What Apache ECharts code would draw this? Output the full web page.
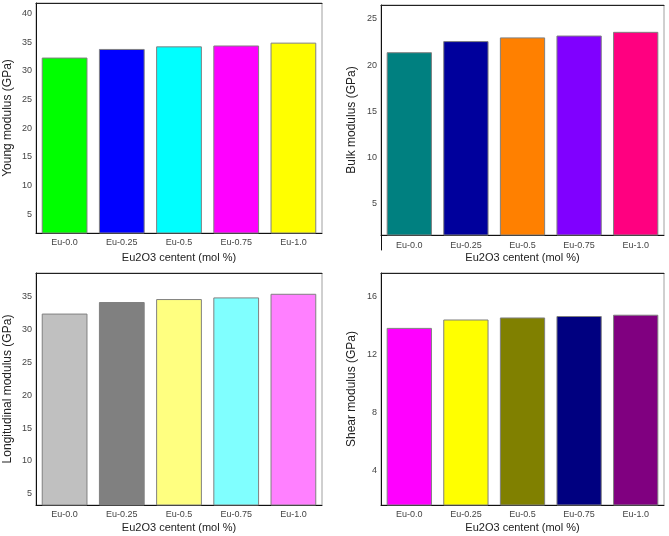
<!DOCTYPE html>
<html>
<head>
<meta charset="utf-8">
<script src="https://cdn.jsdelivr.net/npm/echarts@6/dist/echarts.min.js"></script>
<style>
html,body{margin:0;padding:0;background:#fff;}
#chart{width:669px;height:536px;}
</style>
</head>
<body>
<div id="chart"></div>
<script>
const categories = ['Eu-0.0', 'Eu-0.25', 'Eu-0.5', 'Eu-0.75', 'Eu-1.0'];

const youngValues = [32.3, 33.8, 34.25, 34.4, 34.9];
const bulkValues = [21.4, 22.6, 23.0, 23.2, 23.6];
const longitudinalValues = [32.35, 34.1, 34.55, 34.8, 35.35];
const shearValues = [13.85, 14.43, 14.57, 14.67, 14.76];

const youngTicks = [5, 10, 15, 20, 25, 30, 35, 40];
const bulkTicks = [5, 10, 15, 20, 25];
const longitudinalTicks = [5, 10, 15, 20, 25, 30, 35];
const shearTicks = [4, 8, 12, 16];

const youngColors = ['#00ff00', '#0000ff', '#00ffff', '#ff00ff', '#ffff00'];
const bulkColors = ['#008080', '#00009c', '#ff8000', '#8000ff', '#ff0080'];
const longitudinalColors = ['#c0c0c0', '#808080', '#ffff80', '#80ffff', '#ff80ff'];
const shearColors = ['#ff00ff', '#ffff00', '#808000', '#000080', '#800080'];

const xTitle = 'Eu2O3 centent (mol %)';

const panels = [
  { title: 'Young modulus (GPa)', values: youngValues, colors: youngColors, ticks: youngTicks,
    min: 1.75, max: 41.8, grid: { left: 36, top: 3, width: 286, height: 230 }, labelMargin: 5, xGap: 19, yGap: 22 },
  { title: 'Bulk modulus (GPa)', values: bulkValues, colors: bulkColors, ticks: bulkTicks,
    min: 1.65, max: 26.5, grid: { left: 381, top: 5, width: 283, height: 230 }, labelMargin: 6, xGap: 17, yGap: 23 },
  { title: 'Longitudinal modulus (GPa)', values: longitudinalValues, colors: longitudinalColors, ticks: longitudinalTicks,
    min: 3.33, max: 38.5, grid: { left: 36, top: 273, width: 286, height: 232 }, labelMargin: 5, xGap: 17, yGap: 22 },
  { title: 'Shear modulus (GPa)', values: shearValues, colors: shearColors, ticks: shearTicks,
    min: 1.62, max: 17.64, grid: { left: 381, top: 273, width: 283, height: 232 }, labelMargin: 5, xGap: 17, yGap: 23 }
];

const FONT = 'Liberation Sans, Arial, sans-serif';
const grids = [], xAxes = [], yAxes = [], series = [];

panels.forEach((p, i) => {
  grids.push(Object.assign({ show: true, borderColor: '#a0a0a0', borderWidth: 1, containLabel: false }, p.grid));
  // main bottom category axis
  xAxes.push({
    gridIndex: i, type: 'category', data: categories, position: 'bottom',
    axisLine: { show: true, lineStyle: { color: '#111', width: 1 } },
    axisTick: { show: false },
    axisLabel: { color: '#444', fontSize: 9, fontFamily: FONT, margin: p.labelMargin },
    name: xTitle, nameLocation: 'middle', nameGap: p.xGap,
    nameTextStyle: { color: '#222', fontSize: 11, fontFamily: FONT }
  });
  // top frame line
  xAxes.push({
    gridIndex: i, type: 'category', data: categories, position: 'top',
    axisLine: { show: true, onZero: false, lineStyle: { color: '#222', width: 1 } },
    axisTick: { show: false }, axisLabel: { show: false }, splitLine: { show: false }
  });
  yAxes.push({
    gridIndex: i, type: 'value', min: p.min, max: p.max,
    axisLine: { show: true, lineStyle: { color: '#111', width: 1 } },
    axisTick: { show: false },
    splitLine: { show: false },
    axisLabel: { color: '#444', fontSize: 9, fontFamily: FONT, margin: 4, customValues: p.ticks,
      showMinLabel: true, showMaxLabel: true },
    name: p.title, nameLocation: 'middle', nameGap: p.yGap,
    nameTextStyle: { color: '#222', fontSize: 12, fontFamily: FONT }
  });
  series.push({
    type: 'bar', xAxisIndex: i * 2, yAxisIndex: i,
    barCategoryGap: '20%',
    data: p.values.map((v, k) => ({ value: v, itemStyle: { color: p.colors[k] } })),
    itemStyle: { borderColor: '#808080', borderWidth: 1 },
    emphasis: { disabled: true },
    animation: false
  });
});

// extension of the bulk-modulus value axis below its category axis
grids.push({ left: 381, top: 235, width: 283, height: 15, show: false });
xAxes.push({ gridIndex: 4, type: 'category', data: categories, show: false });
yAxes.push({
  gridIndex: 4, type: 'value', min: 0, max: 1,
  axisLine: { show: true, lineStyle: { color: '#111', width: 1 } },
  axisTick: { show: false }, axisLabel: { show: false }, splitLine: { show: false }
});

const chart = echarts.init(document.getElementById('chart'), null, { renderer: 'canvas' });
chart.setOption({
  backgroundColor: '#ffffff',
  animation: false,
  grid: grids,
  xAxis: xAxes,
  yAxis: yAxes,
  series: series
});
</script>
</body>
</html>
